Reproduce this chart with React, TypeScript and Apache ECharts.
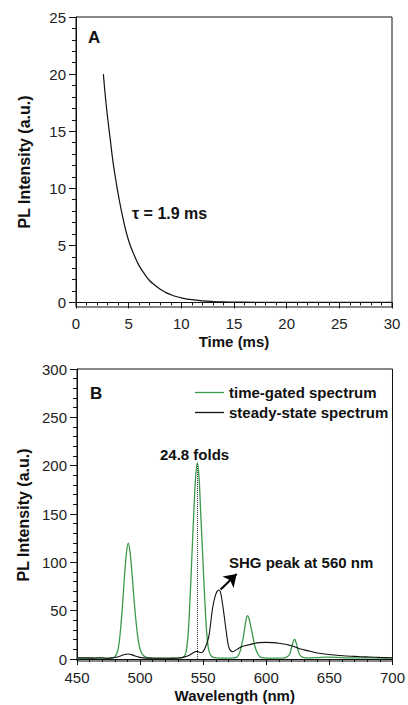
import React, { useEffect, useRef } from "react";
import * as echarts from "echarts";

// ---------- Panel A: PL decay ----------
const decayTime = [2.6, 2.8, 3, 3.25, 3.5, 3.75, 4, 4.5, 5, 5.5, 6, 6.5, 7, 7.5, 8, 8.5, 9, 9.5, 10, 11, 12, 13, 14, 15, 16, 18, 20, 25, 30];
const decayIntensity = [20, 17.9, 16.2, 14.3, 12.4, 10.9, 9.5, 7.2, 5.4, 4.2, 3.2, 2.5, 1.9, 1.5, 1.15, 0.88, 0.68, 0.52, 0.4, 0.24, 0.14, 0.08, 0.05, 0.03, 0.02, 0.01, 0, 0, 0];
const timeTicks = [0, 5, 10, 15, 20, 25, 30];
const intensityTicksA = [0, 5, 10, 15, 20, 25];

// ---------- Panel B: spectra ----------
const gatedWavelength = [450, 458, 466, 474, 478, 480, 482, 483.5, 485, 486.3, 487.7, 489.2, 490.6, 492, 493.5, 495.3, 497, 498.5, 500, 502, 504.5, 508, 515, 522, 528, 533, 535, 536.5, 538, 539.5, 541, 542.5, 544, 545.3, 546.6, 548, 549.5, 551, 552.5, 554, 555.5, 557.5, 561, 568, 574, 577, 579, 580.5, 581.7, 583, 584.2, 585.1, 586.3, 587.8, 589.6, 591, 593, 595, 598, 605, 612, 616, 618.5, 620, 621.3, 622.4, 623.6, 625, 626.5, 628.5, 632, 640, 648, 656, 665, 680, 690, 700];
const gatedIntensity = [1.0, 0.8, 1.0, 0.8, 1.2, 2.5, 7, 18, 38, 60, 87, 110, 120, 111, 90, 60, 36, 20, 10, 4.5, 2, 1.2, 0.9, 0.8, 0.8, 1.2, 3, 8, 25, 60, 105, 150, 188, 203, 190, 152, 110, 68, 32, 12, 5, 2, 1.2, 1, 1.2, 2.5, 7, 15, 22, 33, 42, 45, 42, 33, 22, 13, 6, 2.5, 1.2, 0.9, 1, 2, 5, 12, 18, 20.5, 17, 10, 4.5, 2, 1.2, 1.5, 2, 1.8, 1.2, 1.3, 1, 1.2];

const steadyWavelength = [450, 456, 462, 468, 474, 478, 482, 485, 488, 490.6, 493, 496, 499, 503, 510, 518, 526, 532, 536, 539, 541.5, 543.5, 545, 546.5, 548.3, 550, 552, 554.4, 556, 557.6, 559.5, 561, 562.3, 563.5, 565, 566.7, 568.5, 570.1, 571.5, 573.3, 575.5, 578, 581, 584, 586.4, 590, 594.3, 600, 604.8, 610, 614, 618, 622, 625.8, 630, 636.3, 642, 649.4, 656, 663, 670, 675.6, 682, 690, 695, 700];
const steadyIntensity = [1.2, 1.4, 1.0, 1.3, 0.9, 1.2, 2.2, 3.5, 4.7, 5.2, 4.6, 3.2, 2, 1.2, 0.9, 0.8, 1, 1.4, 2.5, 4, 6, 7.5, 8, 7.2, 6.5, 8, 13, 23, 38, 54, 65, 70, 71.5, 70, 60, 44, 26, 13, 9, 7.6, 9, 11, 13, 14, 14.8, 16, 17, 17.3, 17, 16.4, 15.5, 14.4, 13, 11, 9.5, 7.6, 6, 4.8, 4, 3.2, 2.8, 2.4, 2.1, 1.7, 1.5, 1.2];
const wavelengthTicks = [450, 500, 550, 600, 650, 700];
const intensityTicksB = [0, 50, 100, 150, 200, 250, 300];

const seriesNames = ["time-gated spectrum", "steady-state spectrum"];
const seriesColors = ["#3a9a4c", "#111111"];

const FONT = '"Liberation Sans", Arial, Helvetica, sans-serif';
const AX = "#111";

function minorOf(major: number[]): number[] {
  const out: number[] = [];
  for (let i = 1; i < major.length; i++) {
    const step = (major[i] - major[i - 1]) / 5;
    for (let k = 1; k < 5; k++) out.push(major[i - 1] + k * step);
  }
  return out;
}

function zip(a: number[], b: number[]) {
  return a.map((x, i) => [x, b[i]]);
}

const axisLabelStyle = { color: "#222", fontSize: 15, fontFamily: FONT };
const nameStyle = { color: "#111", fontSize: 15, fontWeight: "bold" as const, fontFamily: FONT };

function xAxisDef(gridIndex: number, ticks: number[], name: string) {
  return {
    type: "value",
    gridIndex,
    min: ticks[0],
    max: ticks[ticks.length - 1],
    interval: ticks[1] - ticks[0],
    axisLine: { show: true, lineStyle: { color: AX, width: 1 } },
    axisTick: { show: true, inside: false, length: 6, lineStyle: { color: AX } },
    minorTick: { show: true, splitNumber: 5, length: 3, lineStyle: { color: AX } },
    splitLine: { show: false },
    axisLabel: { ...axisLabelStyle, margin: 9 },
    name,
    nameLocation: "middle",
    nameGap: 27,
    nameTextStyle: nameStyle,
  };
}

function yAxesDef(gridIndex: number, min: number, ticks: number[], name: string) {
  const max = ticks[ticks.length - 1];
  return [
    {
      type: "value",
      gridIndex,
      position: "left",
      min,
      max,
      axisLine: { show: true, lineStyle: { color: AX, width: 1 } },
      axisTick: { show: true, inside: false, length: 7, customValues: ticks, lineStyle: { color: AX } },
      axisLabel: { ...axisLabelStyle, margin: 10, customValues: ticks },
      splitLine: { show: false },
      name,
      nameLocation: "middle",
      nameGap: 44,
      nameRotate: 90,
      nameTextStyle: { ...nameStyle, fontSize: 16 },
    },
    {
      type: "value",
      gridIndex,
      position: "left",
      min,
      max,
      axisLine: { show: false },
      axisTick: { show: true, inside: false, length: 4, customValues: minorOf(ticks), lineStyle: { color: AX } },
      axisLabel: { show: false },
      splitLine: { show: false },
    },
  ];
}

export default function App() {
  const ref = useRef<HTMLDivElement>(null);
  useEffect(() => {
    if (!ref.current) return;
    const chart = echarts.init(ref.current, undefined, { renderer: "svg" });
    const option: any = {
      animation: false,
      backgroundColor: "#fff",
      grid: [
        { left: 76, right: 16, top: 17, height: 290, show: true, borderColor: AX, borderWidth: 1 },
        { left: 77, right: 14, top: 369, height: 292, show: true, borderColor: AX, borderWidth: 1 },
      ],
      xAxis: [xAxisDef(0, timeTicks, "Time (ms)"), xAxisDef(1, wavelengthTicks, "Wavelength (nm)")],
      yAxis: [
        ...yAxesDef(0, -0.4, intensityTicksA, "PL Intensity (a.u.)"),
        ...yAxesDef(1, -2, intensityTicksB, "PL Intensity (a.u.)"),
      ],
      legend: {
        data: seriesNames,
        orient: "vertical",
        left: 195,
        top: 385,
        padding: 0,
        icon: "path://M0 0H29V1.3H0Z",
        itemWidth: 29,
        itemHeight: 14,
        itemGap: 5,
        selectedMode: false,
        textStyle: { color: "#111", fontSize: 15, fontWeight: "bold", fontFamily: FONT },
      },
      series: [
        {
          type: "line",
          xAxisIndex: 0,
          yAxisIndex: 0,
          data: zip(decayTime, decayIntensity),
          smooth: true,
          symbol: "none",
          lineStyle: { color: "#111", width: 1.2 },
          silent: true,
        },
        {
          type: "line",
          name: seriesNames[0],
          xAxisIndex: 1,
          yAxisIndex: 2,
          data: zip(gatedWavelength, gatedIntensity),
          smooth: 0.35,
          symbol: "none",
          color: seriesColors[0],
          lineStyle: { color: seriesColors[0], width: 1.3 },
          silent: true,
          markLine: {
            silent: true,
            symbol: ["none", "none"],
            label: { show: false },
            lineStyle: { type: "dotted", color: "#333", width: 1 },
            data: [[{ coord: [545.5, 0] }, { coord: [545.5, 203] }]],
          },
        },
        {
          type: "line",
          name: seriesNames[1],
          xAxisIndex: 1,
          yAxisIndex: 2,
          data: zip(steadyWavelength, steadyIntensity),
          smooth: 0.35,
          symbol: "none",
          color: seriesColors[1],
          lineStyle: { color: seriesColors[1], width: 1.1 },
          silent: true,
          markLine: {
            silent: true,
            symbol: ["none", "arrow"],
            symbolSize: 12,
            label: { show: false },
            lineStyle: { type: "solid", color: "#000", width: 2 },
            data: [[{ coord: [563.8, 72] }, { coord: [576.5, 88] }]],
          },
        },
      ],
      graphic: [
        { type: "text", x: 88, y: 37, style: { text: "A", fontSize: 17, fontWeight: "bold", fontFamily: FONT, fill: "#111", verticalAlign: "middle" } },
        { type: "text", x: 132, y: 213, style: { text: "τ = 1.9 ms", fontSize: 16, fontWeight: "bold", fontFamily: FONT, fill: "#111", verticalAlign: "middle" } },
        { type: "text", x: 90, y: 393, style: { text: "B", fontSize: 17, fontWeight: "bold", fontFamily: FONT, fill: "#111", verticalAlign: "middle" } },
        { type: "text", x: 160, y: 454, style: { text: "24.8 folds", fontSize: 15, fontWeight: "bold", fontFamily: FONT, fill: "#111", verticalAlign: "middle" } },
        { type: "text", x: 229, y: 562, style: { text: "SHG peak at 560 nm", fontSize: 15, fontWeight: "bold", fontFamily: FONT, fill: "#111", verticalAlign: "middle" } },
      ],
    };
    chart.setOption(option);
    return () => chart.dispose();
  }, []);
  return <div ref={ref} style={{ position: "absolute", left: 0, top: 0, width: 408, height: 705 }} />;
}
